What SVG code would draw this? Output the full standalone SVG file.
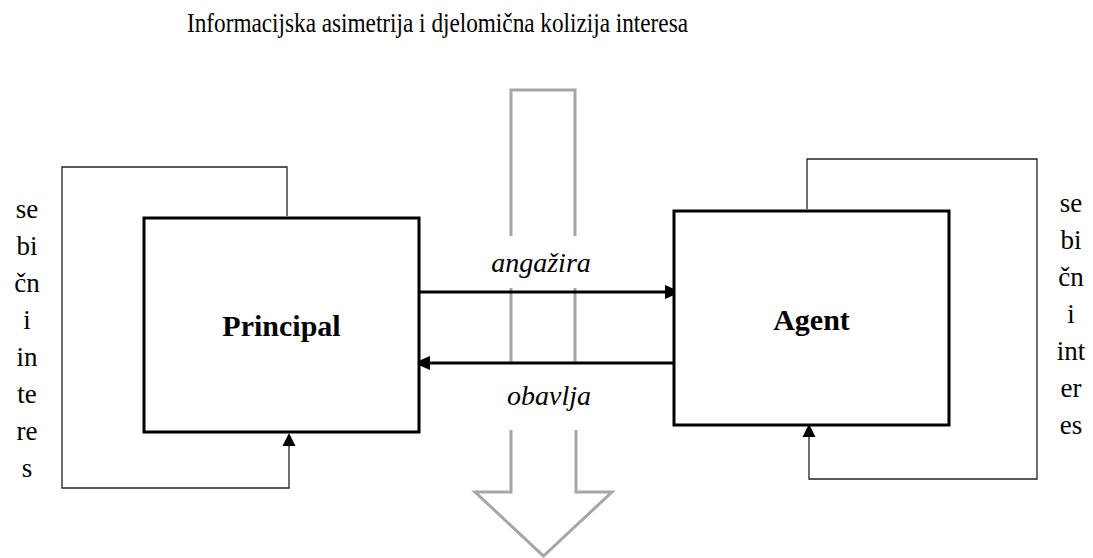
<svg xmlns="http://www.w3.org/2000/svg" width="1093" height="558" viewBox="0 0 1093 558">
<style>
.box{fill:#fff;stroke:#000;stroke-width:3}
.thin{fill:none;stroke:#222;stroke-width:1.3}
.gray{fill:none;stroke:#a6a6a6;stroke-width:3}
.thick{fill:none;stroke:#000;stroke-width:3}
.head{fill:#000;stroke:none}
.t{font-family:"Liberation Serif","Times New Roman",serif;fill:#000}
.lbl{font-size:27px;text-anchor:middle}
.node{font-size:30px;font-weight:bold;text-anchor:middle}
.it{font-size:28px;font-style:italic;text-anchor:middle}
</style>
<rect width="1093" height="558" fill="#fff"/>
<text class="t" x="437.5" y="32" font-size="27" text-anchor="middle" textLength="501" lengthAdjust="spacingAndGlyphs">Informacijska asimetrija i djelomična kolizija interesa</text>
<g id="big-arrow">
<path class="gray" d="M511,236 V90 H575 V236"/>
<path class="gray" d="M511,288 V363 M575,288 V363"/>
<path class="gray" d="M511,430 V492 H475 L543.5,556 L612,492 H576 V430"/>
</g>
<g id="connectors">
<path class="thin" d="M287,216 V167 H62 V488 H289 V440"/>
<polygon class="head" points="282.5,446 289,433 295.5,446"/>
<path class="thin" d="M807,209 V159 H1037 V479 H809 V432"/>
<polygon class="head" points="802.5,437 809,424 815.5,437"/>
<path class="thick" d="M420,292 H667"/>
<polygon class="head" points="665,285 681,292 665,299"/>
<path class="thick" d="M674,363 H428"/>
<polygon class="head" points="430,356 414,363 430,370"/>
</g>
<g id="principal">
<rect class="box" x="144" y="218" width="275" height="214"/>
<text class="t node" x="281.5" y="336">Principal</text>
</g>
<g id="agent">
<rect class="box" x="674" y="211" width="275" height="214"/>
<text class="t node" x="811.5" y="330">Agent</text>
</g>
<g id="label-angazira"><text class="t it" x="541" y="272">angažira</text></g>
<g id="label-obavlja"><text class="t it" x="549" y="405">obavlja</text></g>
<g id="label-left">
<text class="t lbl" x="27" y="218">se</text>
<text class="t lbl" x="27" y="255">bi</text>
<text class="t lbl" x="27" y="292">čn</text>
<text class="t lbl" x="27" y="329">i</text>
<text class="t lbl" x="27" y="366">in</text>
<text class="t lbl" x="27" y="403">te</text>
<text class="t lbl" x="27" y="440">re</text>
<text class="t lbl" x="27" y="477">s</text>
</g>
<g id="label-right">
<text class="t lbl" x="1071" y="212">se</text>
<text class="t lbl" x="1071" y="249">bi</text>
<text class="t lbl" x="1071" y="286">čn</text>
<text class="t lbl" x="1071" y="323">i</text>
<text class="t lbl" x="1071" y="360">int</text>
<text class="t lbl" x="1071" y="397">er</text>
<text class="t lbl" x="1071" y="434">es</text>
</g>
</svg>
